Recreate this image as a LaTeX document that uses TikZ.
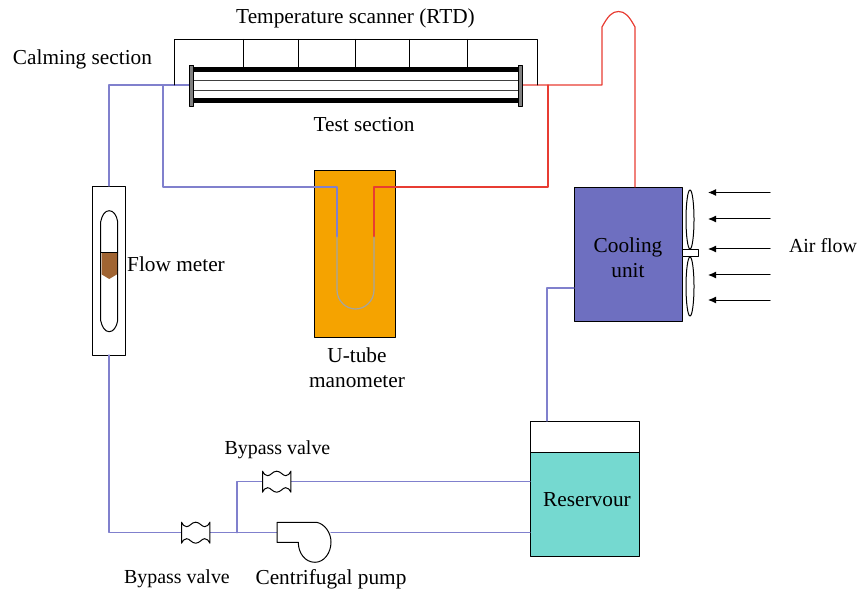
\documentclass[tikz,border=0pt]{standalone}
\usepackage{fontspec}
\setmainfont{Liberation Serif}
\usepackage{xcolor}
\usetikzlibrary{arrows.meta}
\definecolor{bluepipe}{RGB}{128,128,205}
\definecolor{redpipe}{RGB}{232,60,50}
\definecolor{greypipe}{RGB}{165,165,160}
\definecolor{orangefill}{RGB}{245,163,0}
\definecolor{coolfill}{RGB}{110,111,192}
\definecolor{tankfill}{RGB}{117,217,208}
\definecolor{brownfill}{RGB}{160,100,50}
\definecolor{flangefill}{RGB}{128,128,128}
\tikzset{
	unit/.style={draw=black, line width=0.95pt, inner sep=0pt},
	bluepipeline/.style={draw=bluepipe, line width=1.2pt},
	redpipeline/.style={draw=redpipe, line width=1.2pt},
	label/.style={font=\fontsize{21.3}{25}\selectfont, inner sep=0pt, align=center},
	smalllabel/.style={font=\fontsize{19.9}{25}\selectfont, inner sep=0pt, align=center},
	valvebody/.style={draw=black, line width=1pt, fill=white},
	airarrow/.style={draw=black, line width=1pt, -{Latex[length=8pt,width=7pt]}}
}
\newcommand{\valveshape}[1]{
	\draw [valvebody, shift={(#1)}] (-14.2,-10.5) .. controls (-13,-8) and (-11.5,-6) .. (-9,-6) .. controls (-6,-6) and (-4,-10.5) .. (0,-10.5) .. controls (4,-10.5) and (6,-6) .. (9,-6) .. controls (11.5,-6) and (13,-8) .. (14.2,-10.5) -- (14.2,10.5) .. controls (13,8) and (11.5,6) .. (9,6) .. controls (6,6) and (4,10.5) .. (0,10.5) .. controls (-4,10.5) and (-6,6) .. (-9,6) .. controls (-11.5,6) and (-13,8) .. (-14.2,10.5) -- cycle;
}
\begin{document}
\begin{tikzpicture}[x=1pt,y=-1pt,line cap=round,line join=round]
	\useasboundingbox (0,0) rectangle (858,593);
	% boxes
	\node [unit, fill=orangefill, minimum width=81pt, minimum height=167pt] (manometer) at (354.5,253.5) {};
	\node [unit, fill=white, minimum width=33pt, minimum height=169pt] (flowmeter) at (108.5,270.5) {};
	\node [unit, fill=coolfill, minimum width=108pt, minimum height=134pt] (coolingunit) at (628,254) {};
	\node [unit, fill=white, minimum width=109pt, minimum height=31pt] (tanktop) at (584.5,436.5) {};
	\node [unit, fill=tankfill, minimum width=109pt, minimum height=104pt] (reservour) at (584.5,504) {};
	% junctions
	\coordinate (testin) at (189,85);
	\coordinate (testout) at (522,85);
	\coordinate (flowtop) at (109,186);
	\coordinate (flowbot) at (109,355);
	\coordinate (tapblue) at (163,85);
	\coordinate (tapred) at (548,85);
	\coordinate (legblue) at (337,237);
	\coordinate (legred) at (374,237);
	\coordinate (valvelow) at (195.7,532.7);
	\coordinate (valvehigh) at (276.7,481.7);
	\coordinate (pumpin) at (277,532.7);
	\coordinate (pumpout) at (331,532.7);
	\coordinate (splitter) at (237,532.7);
	% pipes
	\draw [bluepipeline] (testin) -- (109,85) -- (flowtop);
	\draw [bluepipeline] (tapblue) -- (163,187) -- (337,187) -- (legblue);
	\draw [redpipeline] (testout) -- (602,85) -- (602,27) .. controls (608,16) and (612,11.5) .. (618.5,11.5) .. controls (625,11.5) and (629,16) .. (635,27) -- (635,187);
	\draw [redpipeline] (tapred) -- (548,187) -- (374,187) -- (legred);
	\draw [draw=greypipe, line width=1.2pt] (legblue) -- (337,290) .. controls (337,301) and (346,309) .. (355.5,309) .. controls (365,309) and (374,301) .. (374,290) -- (legred);
	\draw [bluepipeline] (flowbot) -- (109,532.7) -- (valvelow);
	\draw [bluepipeline] (valvelow) -- (pumpin);
	\draw [bluepipeline] (splitter) -- (237,481.7) -- (valvehigh);
	\draw [bluepipeline] (valvehigh) -- (530,481.7);
	\draw [bluepipeline] (pumpout) -- (530,532.7);
	\draw [bluepipeline] (547,421) -- (547,288) -- (574,288);
	% temperature scanner
	\draw [unit] (174,85) -- (174,39.5) -- (537,39.5) -- (537,85);
	\foreach \xtick in {243,298,355,409,467}
		\draw [line width=1pt] (\xtick,39.5) -- (\xtick,67);
	% test section
	\foreach \ytube in {81,91}
		\draw [line width=1pt, draw=black!75] (192,\ytube) -- (519,\ytube);
	\foreach \ytube in {69.5,100.5}
		\draw [line width=4.5pt, line cap=butt] (192,\ytube) -- (519,\ytube);
	\draw [fill=flangefill, line width=0.8pt] (189.5,65) rectangle (193.5,106);
	\draw [fill=flangefill, line width=0.8pt] (518,65) rectangle (522,106);
	% flow meter
	\draw [line width=1pt] (100.7,221.7) .. controls (102,215) and (105,210.7) .. (109.2,210.7) .. controls (113.5,210.7) and (116.5,215) .. (117.7,221.7) -- (117.7,320.7) .. controls (116.5,327) and (113.5,331.7) .. (109.2,331.7) .. controls (105,331.7) and (102,327) .. (100.7,320.7) -- cycle;
	\draw [fill=brownfill, draw=none] (101.5,253) -- (117,253) -- (117,274.3) -- (109.2,279) -- (101.5,274.3) -- cycle;
	\draw [line width=1pt] (100.7,253) -- (117.7,253);
	% fan
	\draw [fill=white, line width=1pt] (682,250) rectangle (698.5,257);
	\draw [line width=1pt] (690,219.5) ellipse [x radius=4, y radius=29.5];
	\draw [line width=1pt] (690,286.5) ellipse [x radius=4, y radius=29.5];
	\foreach \yair in {192.5,219,249,275,300}
		\draw [airarrow] (770,\yair) -- (708,\yair);
	% valves and pump
	\valveshape{195.7,532.7}
	\valveshape{276.7,481.7}
	\draw [valvebody] (277,522.3) -- (316.7,522.3) .. controls (325,524) and (331,533) .. (331,542) .. controls (331,553) and (324,562.3) .. (315,562.3) .. controls (305,562.3) and (298.3,553) .. (298.3,542.3) -- (277,542.3) -- cycle;
	% labels
	\node [label] (scannerlabel) at (355.5,18) {Temperature scanner (RTD)};
	\node [label] (calminglabel) at (82.5,59) {Calming section};
	\node [label] (testlabel) at (364,124.5) {Test section};
	\node [label] (flowlabel) at (176,264) {Flow meter};
	\node [label] (manometerlabel) at (357,367.5) {U-tube\\manometer};
	\node [label] (coolinglabel) at (628,257.5) {Cooling\\unit};
	\node [label] (tanklabel) at (587,499.5) {Reservour};
	\node [smalllabel] (airlabel) at (823,245.5) {Air flow};
	\node [smalllabel] (bypasshigh) at (277.5,450) {Bypass valve};
	\node [smalllabel] (bypasslow) at (177,579) {Bypass valve};
	\node [label] (pumplabel) at (331,579) {Centrifugal pump};
\end{tikzpicture}
\end{document}
